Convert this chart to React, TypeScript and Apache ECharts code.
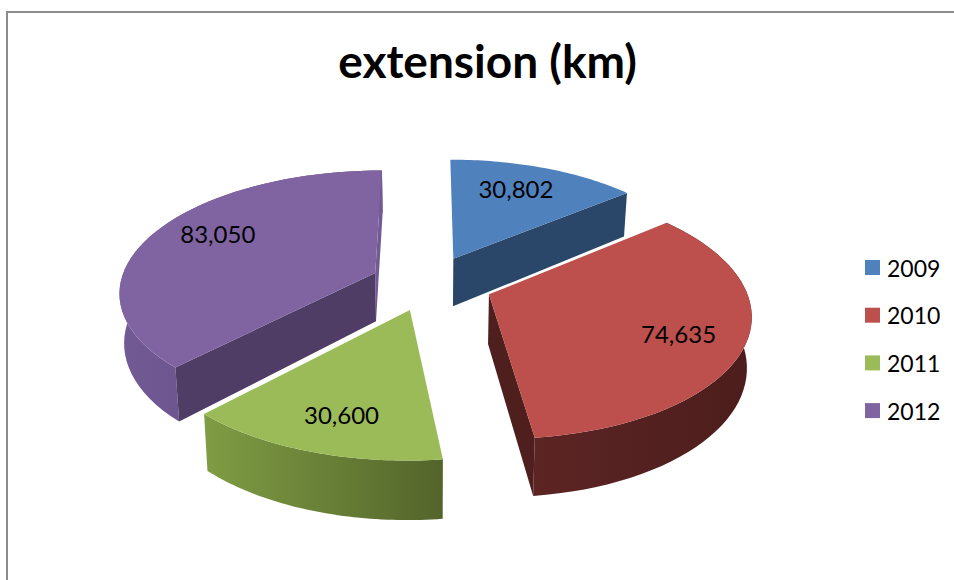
import React, { useEffect, useRef } from "react";
import * as echarts from "echarts";

const titleText = "extension (km)";
const years = ["2009", "2010", "2011", "2012"];
const values = [30802, 74635, 30600, 83050];
const labels = ["30,802", "74,635", "30,600", "83,050"];
const topColors = ["#4f81bd", "#bd4f4c", "#9bbb59", "#8064a2"];
const sideColors = ["#2a4769", "#4f1f1e", "#566830", "#4f3d66"];
const endWallColors = ["#2a4769", "#4f1f1e", "#566830", "#725a95"];
const arcFrom = ["#3c5f8c", "#5c2524", "#7f9d44", "#725a95"];
const arcTo = ["#3c5f8c", "#4c1d1c", "#53642a", "#5e4a80"];
// Which walls can be seen from the viewpoint.
const startWallShown = [false, false, false, true];
const endWallShown = [true, true, false, true];
const arcWallShown = [false, true, true, true];
// Back-to-front paint order of the slices.
const paintOrder = [0, 3, 1, 2];
// How far each slice is pulled out of the pie, as a part of the radius.
const explodes = [0.23, 0.25, 0.23, 0.23];
// Small pixel shifts of each value label from its place on the slice's middle line.
const labelShiftX = [-6, 10, 1.5, 5];
const labelShiftY = [-2, 5, 6, -9];

const CX = 429, CY = 283, RX = 255, RY = 120, PERSP = 0.145, DEPTH = 49, SHRINK = 0.985;
const total = values.reduce((a, b) => a + b, 0);
const rad = (v: number) => (v / total) * Math.PI * 2;

function project(u: number, v: number, down: boolean): number[] {
  const s = 1 / (1 + PERSP * v);
  let x = RX * u * s;
  const y = -RY * v * s + (down ? DEPTH * s : 0);
  if (down) x *= SHRINK;
  return [CX + x, CY + y];
}

function sliceAngles(i: number) {
  let start = 0;
  for (let k = 0; k < i; k++) start += rad(values[k]);
  return [start, start + rad(values[i])];
}

function buildSlice(i: number) {
  const [a0, a1] = sliceAngles(i);
  const mid = (a0 + a1) / 2;
  const ou = explodes[i] * Math.sin(mid);
  const ov = explodes[i] * Math.cos(mid);
  const rim = (a: number) => [ou + Math.sin(a), ov + Math.cos(a)];
  const steps = 48;
  const arcTop: number[][] = [];
  const arcBottom: number[][] = [];
  for (let t = 0; t <= steps; t++) {
    const p = rim(a0 + ((a1 - a0) * t) / steps);
    arcTop.push(project(p[0], p[1], false));
    arcBottom.push(project(p[0], p[1], true));
  }
  const apexTop = project(ou, ov, false);
  const apexBottom = project(ou, ov, true);
  const children: any[] = [];
  const poly = (points: number[][], fill: any) => ({
    type: "polygon",
    shape: { points },
    style: { fill, stroke: "none" },
    silent: true,
  });
  if (arcWallShown[i]) {
    const arcFill = new echarts.graphic.LinearGradient(0, 0, 1, 0, [
      { offset: 0, color: arcFrom[i] },
      { offset: 1, color: arcTo[i] },
    ]);
    children.push(poly([...arcTop, ...arcBottom.slice().reverse()], arcFill));
  }
  if (endWallShown[i]) {
    children.push(poly([apexTop, arcTop[steps], arcBottom[steps], apexBottom], endWallColors[i]));
  }
  if (startWallShown[i]) {
    children.push(poly([apexTop, arcTop[0], arcBottom[0], apexBottom], sideColors[i]));
  }
  children.push(poly([apexTop, ...arcTop], topColors[i]));
  const lr = 0.96;
  const lab = project(lr * Math.sin(mid), lr * Math.cos(mid), false);
  children.push({
    type: "text",
    x: lab[0] + labelShiftX[i],
    y: lab[1] + labelShiftY[i],
    z2: 10,
    style: {
      text: labels[i],
      fill: "#000",
      font: "24px Lato, sans-serif",
      align: "center",
      verticalAlign: "middle",
    },
    silent: true,
  });
  return { type: "group", children };
}

export default function App() {
  const ref = useRef<HTMLDivElement>(null);
  useEffect(() => {
    document.body.style.margin = "0";
    const chart = echarts.init(ref.current!, null, { renderer: "svg" });
    chart.setOption({
      animation: false,
      backgroundColor: "#fff",
      title: {
        text: titleText,
        left: 482.5,
        top: 32,
        textAlign: "center",
        textStyle: { fontFamily: "Lato, sans-serif", fontWeight: "bold", fontSize: 46, color: "#000" },
      },
      legend: {
        orient: "vertical",
        left: 860,
        top: 251,
        itemWidth: 15,
        itemHeight: 15,
        itemGap: 24.7,
        icon: "rect",
        data: years,
        selectedMode: false,
        textStyle: { fontFamily: "Lato, sans-serif", fontSize: 23, color: "#000", padding: [0, 0, 0, 2] },
      },
      graphic: [
        {
          type: "polyline",
          shape: { points: [[7, 580], [7, 12], [954, 12]] },
          style: { stroke: "#8c8c8c", lineWidth: 2, fill: "none" },
          silent: true,
        },
      ],
      series: years.map((name, i) => ({
        type: "custom",
        name,
        coordinateSystem: "none",
        z: 2 + paintOrder.indexOf(i),
        itemStyle: { color: topColors[i] },
        data: [[values[i]]],
        renderItem: () => buildSlice(i),
        silent: true,
      })),
    });
    return () => chart.dispose();
  }, []);
  return <div ref={ref} style={{ width: 954, height: 580 }} />;
}
